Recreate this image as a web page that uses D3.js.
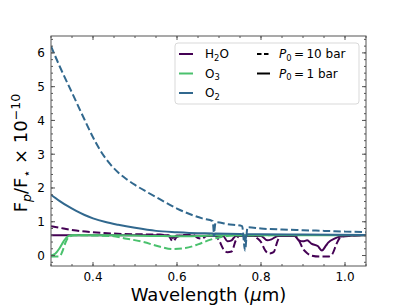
<!DOCTYPE html>
<html><head><meta charset="utf-8">
<script src="https://cdn.jsdelivr.net/npm/d3@7"></script>
<style>
html,body{margin:0;padding:0;background:#fff;}
svg text{font-family:"DejaVu Sans",sans-serif;}
</style></head>
<body><svg id="c" width="407" height="305"></svg>
<script>
// ---- data ----
const xTicks = [0.4, 0.6, 0.8, 1.0];
const xTickLabels = ["0.4", "0.6", "0.8", "1.0"];
const yTicks = [0, 1, 2, 3, 4, 5, 6];
const yTickLabels = ["0", "1", "2", "3", "4", "5", "6"];

const h2oDashWl = [0.30,0.33,0.36,0.40,0.45,0.50,0.56,0.58,0.59,0.60,0.62,0.64,0.65,0.66,0.67,0.69,0.70,0.71,0.72,0.73,0.74,0.75,0.78,0.79,0.80,0.81,0.82,0.83,0.84,0.85,0.88,0.89,0.90,0.91,0.92,0.94,0.96,0.97,0.98,0.99,1.00,1.05];
const h2oDashVal = [0.87,0.80,0.74,0.69,0.65,0.63,0.62,0.58,0.42,0.55,0.61,0.60,0.52,0.50,0.58,0.60,0.45,0.20,0.10,0.12,0.45,0.60,0.60,0.52,0.40,0.15,0.06,0.10,0.45,0.60,0.60,0.45,0.20,0.07,0.00,-0.03,-0.03,0.05,0.35,0.55,0.58,0.60];

const h2oSolidWl = [0.30,0.58,0.59,0.60,0.71,0.72,0.73,0.74,0.80,0.815,0.825,0.84,0.88,0.89,0.90,0.91,0.92,0.935,0.945,0.955,0.96,0.975,0.99,1.05];
const h2oSolidVal = [0.60,0.60,0.52,0.59,0.58,0.42,0.45,0.58,0.58,0.45,0.48,0.58,0.58,0.45,0.42,0.45,0.35,0.28,0.15,0.30,0.38,0.50,0.56,0.60];

const o3DashWl = [0.30,0.32,0.327,0.335,0.343,0.355,0.44,0.48,0.52,0.56,0.59,0.62,0.65,0.68,0.71,0.75,1.05];
const o3DashVal = [-0.03,-0.03,0.12,0.40,0.55,0.60,0.58,0.50,0.40,0.26,0.19,0.22,0.33,0.47,0.56,0.60,0.61];

const o3SolidWl = [0.30,0.31,0.32,0.33,0.34,0.35,0.45,0.55,0.60,0.65,0.70,1.05];
const o3SolidVal = [0.00,0.05,0.21,0.42,0.57,0.60,0.60,0.58,0.57,0.58,0.60,0.60];

const o2DashWl = [0.30,0.32,0.35,0.38,0.40,0.42,0.44,0.46,0.48,0.50,0.53,0.56,0.60,0.636,0.66,0.685,0.688,0.692,0.72,0.755,0.762,0.768,0.80,0.85,0.90,0.95,1.00,1.05];
const o2DashVal = [6.20,5.62,4.82,4.02,3.50,3.06,2.72,2.46,2.26,2.09,1.87,1.66,1.39,1.20,1.10,1.02,0.67,0.99,0.93,0.87,0.15,0.84,0.80,0.77,0.75,0.73,0.71,0.69];

const o2SolidWl = [0.30,0.32,0.34,0.36,0.38,0.40,0.43,0.46,0.50,0.55,0.60,0.65,0.686,0.688,0.690,0.75,0.758,0.762,0.766,0.80,0.90,1.05];
const o2SolidVal = [1.80,1.62,1.46,1.32,1.20,1.10,0.99,0.91,0.82,0.73,0.69,0.66,0.65,0.58,0.65,0.64,0.63,0.42,0.63,0.63,0.62,0.61];

const colH2O = "#440154", colO3 = "#4ac16d", colO2 = "#31688e";

// ---- layout ----
const svg = d3.select("#c");
const L = 51, R = 366, T = 36, B = 266;
const x = d3.scaleLinear().domain([0.3, 1.05]).range([L, R]);
const y = d3.scaleLinear().domain([-0.31, 6.5]).range([B, T]);

svg.append("defs").append("clipPath").attr("id","clip")
  .append("rect").attr("x",L).attr("y",T).attr("width",R-L).attr("height",B-T);

const line = d3.line().x(d=>x(d[0])).y(d=>y(d[1])).curve(d3.curveMonotoneX);
const zip = (a,b)=>a.map((v,i)=>[v,b[i]]);
const g = svg.append("g").attr("clip-path","url(#clip)");
const series = [
  [h2oDashWl,h2oDashVal,colH2O,true],
  [h2oSolidWl,h2oSolidVal,colH2O,false],
  [o3DashWl,o3DashVal,colO3,true],
  [o3SolidWl,o3SolidVal,colO3,false],
  [o2DashWl,o2DashVal,colO2,true],
  [o2SolidWl,o2SolidVal,colO2,false]
];
series.forEach(([w,v,c,d])=>{
  g.append("path").attr("d",line(zip(w,v))).attr("fill","none")
   .attr("stroke",c).attr("stroke-width",2)
   .attr("stroke-dasharray", d ? "7.4,3.2" : null);
});

// ---- axes ----
const axCol = "#555";
const xMinor = d3.range(0,16).map(i=>0.3+i*0.05);
const yMinor = d3.range(-1,33).map(i=>i*0.2).filter(v=>v>=-0.31&&v<=6.5);
const axG = svg.append("g");
function ticks(vals, len, scale, side){
  vals.forEach(v=>{
    const p = scale(v);
    if(side==="b") axG.append("line").attr("x1",p).attr("x2",p).attr("y1",B).attr("y2",B-len);
    if(side==="t") axG.append("line").attr("x1",p).attr("x2",p).attr("y1",T).attr("y2",T+len);
    if(side==="l") axG.append("line").attr("y1",p).attr("y2",p).attr("x1",L).attr("x2",L+len);
    if(side==="r") axG.append("line").attr("y1",p).attr("y2",p).attr("x1",R).attr("x2",R-len);
  });
}
ticks(xMinor,2,x,"b");ticks(xMinor,2,x,"t");
ticks(xTicks,4,x,"b");ticks(xTicks,4,x,"t");
ticks(yMinor,2,y,"l");ticks(yMinor,2,y,"r");
ticks(yTicks,4,y,"l");ticks(yTicks,4,y,"r");
axG.selectAll("line").attr("stroke",axCol).attr("stroke-width",1);
axG.append("rect").attr("x",L).attr("y",T).attr("width",R-L).attr("height",B-T)
  .attr("fill","none").attr("stroke",axCol).attr("stroke-width",1);

xTicks.forEach((v,i)=>{
  svg.append("text").attr("x",x(v)).attr("y",281).attr("text-anchor","middle")
    .attr("font-size",12).attr("fill","#000").text(xTickLabels[i]);
});
yTicks.forEach((v,i)=>{
  svg.append("text").attr("x",45).attr("y",y(v)+4.3).attr("text-anchor","end")
    .attr("font-size",12).attr("fill","#000").text(yTickLabels[i]);
});

// x label
const xl = svg.append("text").attr("x",(L+R)/2).attr("y",301).attr("text-anchor","middle")
  .attr("font-size",18).attr("fill","#000");
xl.append("tspan").text("Wavelength (");
xl.append("tspan").attr("font-style","italic").text("μ");
xl.append("tspan").text("m)");

// y label
const yl = svg.append("text").attr("transform","translate(27,153) rotate(-90)")
  .attr("text-anchor","middle").attr("font-size",18).attr("fill","#000");
yl.append("tspan").text("F");
yl.append("tspan").attr("font-style","italic").attr("font-size",12.6).attr("dy",3.5).text("p");
yl.append("tspan").attr("dy",-3.5).text("/F");
yl.append("tspan").attr("font-size",12.6).attr("dy",3.5).text("⋆");
yl.append("tspan").attr("dy",-3.5).text(" × 10");
yl.append("tspan").attr("font-size",12.6).attr("dy",-7.5).text("−10");

// ---- legend ----
const lg = svg.append("g");
lg.append("rect").attr("x",175).attr("y",43).attr("width",184).attr("height",61)
  .attr("rx",3).attr("fill","#fff").attr("fill-opacity",0.8).attr("stroke","#d9d9d9");
const rows = [54, 73.5, 93];
const leg1 = [["H","2","O",colH2O],["O","3","",colO3],["O","2","",colO2]];
leg1.forEach((e,i)=>{
  lg.append("line").attr("x1",179).attr("x2",193).attr("y1",rows[i]).attr("y2",rows[i])
    .attr("stroke",e[3]).attr("stroke-width",2);
  const t = lg.append("text").attr("x",205).attr("y",rows[i]+4.3).attr("font-size",12).attr("fill","#000");
  t.append("tspan").text(e[0]);
  t.append("tspan").attr("font-size",8.4).attr("dy",2.5).text(e[1]);
  if(e[2]) t.append("tspan").attr("dy",-2.5).text(e[2]);
});
const leg2 = [["10", true],["1", false]];
leg2.forEach((e,i)=>{
  lg.append("line").attr("x1",257).attr("x2",270).attr("y1",rows[i]).attr("y2",rows[i])
    .attr("stroke","#000").attr("stroke-width",2).attr("stroke-dasharray", e[1] ? "4.5,2.5" : null);
  const t = lg.append("text").attr("x",279).attr("y",rows[i]+4.3).attr("font-size",12).attr("fill","#000");
  t.append("tspan").attr("font-style","italic").text("P");
  t.append("tspan").attr("font-size",8.4).attr("dy",2.5).text("0");
  t.append("tspan").attr("dy",-2.5).text("\u2009=\u2009" + e[0] + " bar");
});
</script></body></html>
